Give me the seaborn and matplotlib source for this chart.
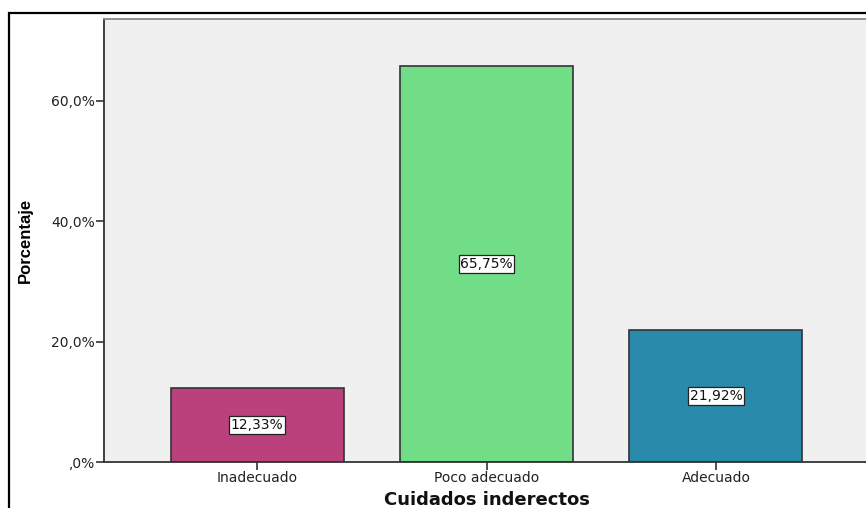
import matplotlib
matplotlib.use("Agg")
import matplotlib.pyplot as plt
from matplotlib.patches import Rectangle
import seaborn as sns
import pandas as pd

categorias = ["Inadecuado", "Poco adecuado", "Adecuado"]
porcentajes = [12.33, 65.75, 21.92]
etiquetas = ["12,33%", "65,75%", "21,92%"]
colores = ["#BA417B", "#71DD86", "#2A8AAB"]
yticks = [0, 20, 40, 60]
ytick_labels = [",0%", "20,0%", "40,0%", "60,0%"]

df = pd.DataFrame({"Cuidados": categorias, "Porcentaje": porcentajes})

sns.set_style("white")
plt.rcParams["font.family"] = ["DejaVu Sans"]

fig = plt.figure(figsize=(8.66, 5.08), dpi=100)
ax = fig.add_axes([104 / 866, 46 / 508, 765 / 866, 443 / 508])
ax.set_facecolor("#F0F0F0")

sns.barplot(data=df, x="Cuidados", y="Porcentaje", hue="Cuidados",
            palette=colores, saturation=1, width=0.754, edgecolor="#333333",
            linewidth=1.2, legend=False, ax=ax)

ax.set_xlim(-0.667, 2.667)
ax.set_ylim(0, 73.6)
ax.set_yticks(yticks)
ax.set_yticklabels(ytick_labels)
ax.tick_params(axis="both", direction="out", length=5.5, width=1.2,
               color="#333333", labelsize=10, labelcolor="#222222",
               left=True, bottom=True, pad=1)

for i, v in enumerate(porcentajes):
    ax.text(i, v / 2, etiquetas[i], ha="center", va="center", fontsize=10,
            color="#111111",
            bbox=dict(boxstyle="square,pad=0.12", fc="white", ec="#222222", lw=0.9))

for side in ["left", "bottom"]:
    ax.spines[side].set_color("#333333")
    ax.spines[side].set_linewidth(1.3)
ax.spines["top"].set_color("#888888")
ax.spines["top"].set_linewidth(1.3)
ax.spines["right"].set_visible(False)

ax.set_ylabel("Porcentaje", fontsize=12, fontweight="bold",
              family=["Liberation Sans", "DejaVu Sans"], color="black")
ax.yaxis.set_label_coords(-0.093, 0.5)
ax.set_xlabel("Cuidados inderectos", fontsize=13, fontweight="bold", color="#111111")
ax.xaxis.set_label_coords(0.5, -0.065)

fig.add_artist(Rectangle((9 / 866, -0.2), 1.5, 1.2 - 13 / 508, transform=fig.transFigure,
                         fill=False, ec="black", lw=1.6, clip_on=False))

fig.savefig("out.png", dpi=100)
